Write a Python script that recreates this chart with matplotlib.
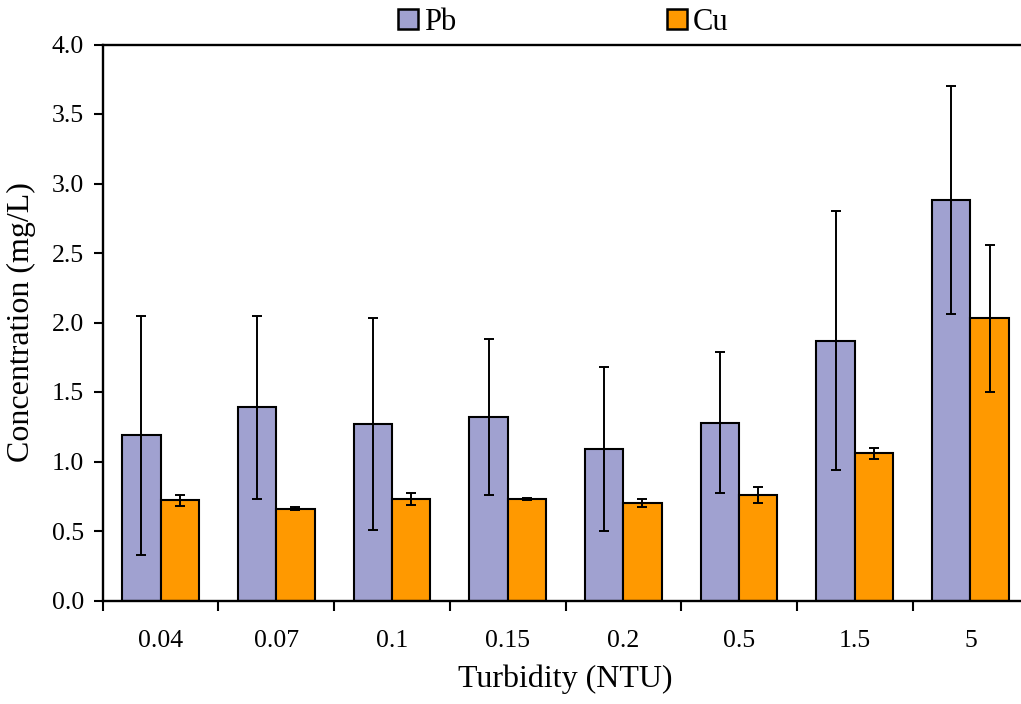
import matplotlib
matplotlib.use("Agg")
import matplotlib.pyplot as plt
import numpy as np
from matplotlib.patches import Patch

categories = ["0.04", "0.07", "0.1", "0.15", "0.2", "0.5", "1.5", "5"]
pb_mean = [1.19, 1.39, 1.27, 1.32, 1.09, 1.28, 1.87, 2.88]
pb_err = [0.86, 0.66, 0.76, 0.56, 0.59, 0.51, 0.93, 0.82]
cu_mean = [0.72, 0.66, 0.73, 0.73, 0.70, 0.76, 1.06, 2.03]
cu_err = [0.04, 0.01, 0.04, 0.01, 0.03, 0.06, 0.04, 0.53]

pb_color = "#A0A1D0"
cu_color = "#FF9900"

plt.rcParams["font.family"] = ["Liberation Serif", "DejaVu Serif"]

fig = plt.figure(figsize=(10.21, 7.04), dpi=100)
ax = fig.add_axes([102.7 / 1021, 103.5 / 704, (1028.3 - 102.7) / 1021, (600.5 - 44.5) / 704])

x = np.arange(len(categories))
w = 0.331
ekw = dict(elinewidth=1.4, capthick=1.4, ecolor="black")
ax.bar(x - w / 2, pb_mean, w, yerr=pb_err, color=pb_color, edgecolor="black",
       linewidth=1.5, capsize=3.5, error_kw=ekw, label="Pb")
ax.bar(x + w / 2, cu_mean, w, yerr=cu_err, color=cu_color, edgecolor="black",
       linewidth=1.5, capsize=3.5, error_kw=ekw, label="Cu")

ax.set_xlim(-0.5, len(categories) - 0.5)
ax.set_ylim(0, 4.0)
ax.set_yticks(np.arange(0, 4.01, 0.5))
ax.set_yticklabels([f"{v:.1f}" for v in np.arange(0, 4.01, 0.5)])
ax.set_xticks(x)
ax.set_xticklabels(categories)
ax.set_xticks(np.arange(-0.5, len(categories), 1.0), minor=True)
ax.tick_params(axis="x", which="major", length=0, pad=21, labelsize=18.5)
ax.tick_params(axis="x", which="minor", length=7, width=1.5, direction="out")
ax.tick_params(axis="y", which="major", length=6.5, width=1.5, direction="out", labelsize=18.5, pad=7)

for s in ["left", "bottom", "top"]:
    ax.spines[s].set_linewidth(1.7)
ax.spines["right"].set_visible(False)

ax.set_xlabel("Turbidity (NTU)", fontsize=23, labelpad=9)
ax.set_ylabel("Concentration (mg/L)", fontsize=23, labelpad=11)

handles = [Patch(facecolor=pb_color, edgecolor="black", linewidth=1.8, label="Pb"),
           Patch(facecolor=cu_color, edgecolor="black", linewidth=1.8, label="Cu")]
fig.legend(handles=handles, ncol=2, loc="center", bbox_to_anchor=(563.5 / 1021, 1 - 22 / 704),
           frameon=False, fontsize=22, handlelength=0.65, handleheight=0.65,
           handletextpad=0.2, columnspacing=6.9, borderpad=0)

fig.savefig("out.png", dpi=100)
